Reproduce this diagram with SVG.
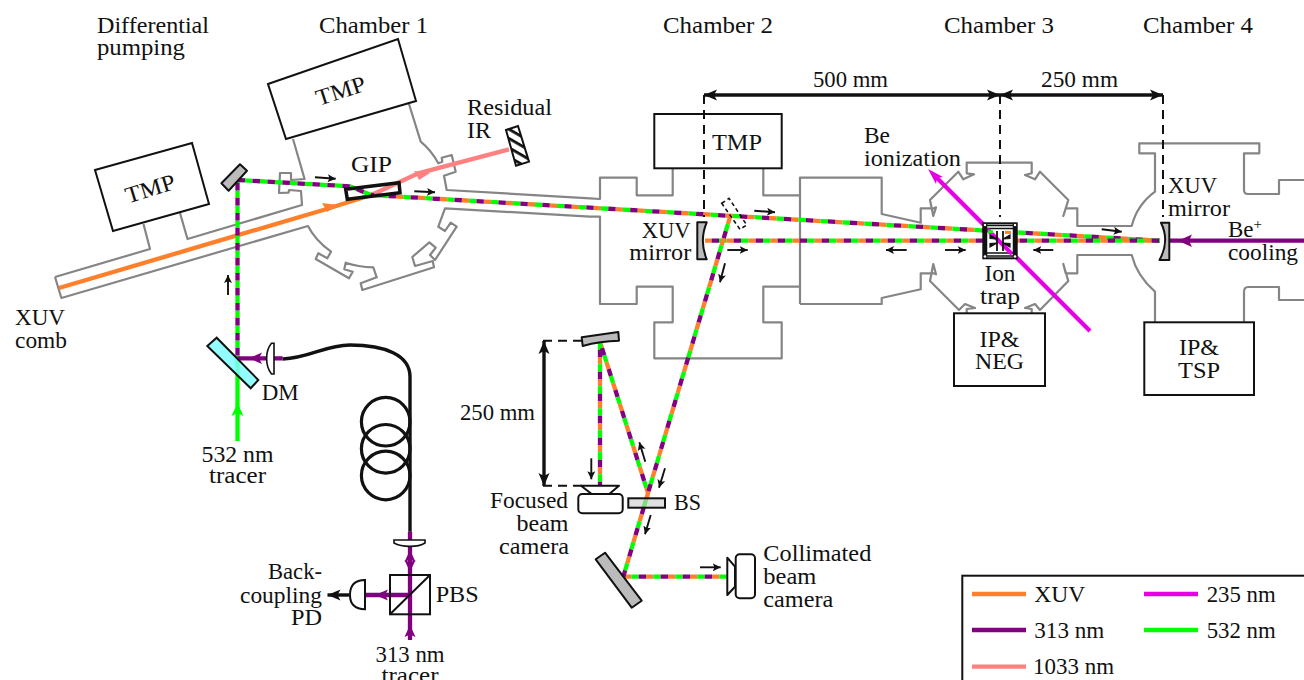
<svg xmlns="http://www.w3.org/2000/svg" width="1304" height="680" viewBox="0 0 1304 680">
<style>
text{font-family:"Liberation Serif","Times New Roman",serif;font-size:23px;fill:#111}
.m{text-anchor:middle}.e{text-anchor:end}
.g{fill:none;stroke:#858585;stroke-width:2.200;stroke-linejoin:round}
.box{fill:#fff;stroke:#111;stroke-width:2}
.opt{stroke:#111;stroke-width:2;stroke-linejoin:round}
.ar{fill:none;stroke:#111;stroke-width:1.900;marker-end:url(#sm)}
.dash{fill:none;stroke:#111;stroke-width:2;stroke-dasharray:9 6}
.dim{fill:none;stroke:#111;stroke-width:3.400;marker-end:url(#big);marker-start:url(#bigs)}
.t{fill:none;stroke-width:4.300}
.o{stroke:#ff7f2a}.v{stroke:#800080}.n{stroke:#00ff00}.p{stroke:#ff8080}.k{stroke:#e600e6}
.q{stroke-dasharray:7.330 14.670}
.w{stroke-dasharray:7.500 7.500}
</style>
<defs>
<marker id="sm" markerUnits="userSpaceOnUse" markerWidth="10" markerHeight="10" refX="8" refY="4.500" orient="auto"><path d="M0,0.500L8,4.500L0,8.500L1.800,4.500Z" fill="#111"/></marker>
<marker id="big" markerUnits="userSpaceOnUse" markerWidth="16" markerHeight="16" refX="13" refY="6" orient="auto"><path d="M0,0.500L13,6L0,11.500L3,6Z" fill="#111"/></marker>
<marker id="bigs" markerUnits="userSpaceOnUse" markerWidth="16" markerHeight="16" refX="0" refY="6" orient="auto"><path d="M13,0.500L0,6L13,11.500L10,6Z" fill="#111"/></marker>
<pattern id="hatch" patternUnits="userSpaceOnUse" width="8" height="8" patternTransform="rotate(30)"><rect width="8" height="8" fill="#fff"/><rect width="8" height="2.800" fill="#111"/></pattern>
</defs>

<g id="vacuum">
<path class="g" d="M55,277L150,249L143.500,224M180,213L187.500,239L302,205L301,191L289,190L288.600,192.600L279,193L280,173L291,173L291,180L304.600,179L293,139"/>
<path class="g" d="M55,277L61.400,298L308,226Q315,240 331,251.700L327.300,258.300L318.300,253.300L315.700,259L349,278.300L352.700,271.700L344.300,269.300L345.700,262.700Q358,267 373.300,267.300L376.700,277.300L360.700,283.300L362.300,290L434,267.300L432.700,261L415,266L412.300,257L429.300,242.300L435.700,247.700L430,255L435,260L456.700,226.700L450.700,222.700L445,231L438.300,226.700L445,208.300L590,216.700L600,216.700L600,304L636.700,304L636.700,286.700L672.700,286.700L672.700,322.300L654.300,322.300L654.300,358.300L781.700,358.300L781.700,322.300L763.300,322.300L763.300,286.700L800,286.700"/>
<path class="g" d="M409,104L420.700,141.700Q431,150 438.300,163.300L442.300,161.700L441.700,157.700L451.700,155L455.700,171.700L444,175.700L446.700,190L590,198.300L600,199L600,177.700L636.700,177.700L636.700,195.300L672.700,195.300L672.700,168.300M763.300,168.300L763.300,195.300L800,195.300M800,304L800,177.700L881.700,177.700L881.700,214L920.700,222.700L920.700,208.300L934,208.300L936,207.300L933.300,216L930,200L958.300,171.700L963.300,179.300L974,174.300L966.700,173.300L966.700,162.700L1031.700,162.700L1031.700,173.300L1025,175L1035,179.300L1040,171.700L1068.300,200L1063.300,216L1065.700,208.300L1077.300,208.300L1077.300,226L1131.700,226Q1137,205 1155,191.700L1155,153.300L1139.300,153.300L1139.300,143.300L1259.300,143.300L1259.300,153.300L1244,153.300L1244,190Q1244,194 1248,194L1279,194L1279,180L1304,180"/>
<path class="g" d="M800,304L881.700,304L881.700,298L920.700,289.300L920.700,273.300L934,273.300L936,274.300L933.300,264L930,281L959,310L965,304L975,308L966.700,309L966.700,314M1031.700,314L1031.700,309L1025,308L1035,304L1040,310L1068.300,281L1063.300,264L1065.700,273.300L1077.300,273.300L1077.300,255L1131.700,255Q1137,276 1155,291.700L1155,322M1244,322L1244,292Q1244,287 1248,287L1279,287L1279,300L1304,300"/>
</g>

<g id="tmp-diff"><polygon class="box" points="95,170 192,143 209,204 113,231"/><text class="m" transform="translate(152.500,196) rotate(-17)" textLength="51" lengthAdjust="spacingAndGlyphs">TMP</text></g>
<g id="tmp-ch1"><polygon class="box" points="268,84 398,39 416,101 286,139"/><text class="m" transform="translate(343,98) rotate(-18)" textLength="51" lengthAdjust="spacingAndGlyphs">TMP</text></g>
<g id="tmp-ch2"><rect class="box" x="654.300" y="114" width="127.400" height="54.300"/><text class="m" x="737" y="150" textLength="50" lengthAdjust="spacingAndGlyphs">TMP</text></g>
<g id="ip-neg"><rect class="box" x="954" y="313.300" width="91" height="72.700"/><text class="m" x="999.500" y="346.700" textLength="40" lengthAdjust="spacingAndGlyphs">IP&amp;</text><text class="m" x="999.500" y="369.300" textLength="49" lengthAdjust="spacingAndGlyphs">NEG</text></g>
<g id="ip-tsp"><rect class="box" x="1144.300" y="322.300" width="109.700" height="72.700"/><text class="m" x="1199" y="355" textLength="40" lengthAdjust="spacingAndGlyphs">IP&amp;</text><text class="m" x="1199" y="378" textLength="42" lengthAdjust="spacingAndGlyphs">TSP</text></g>

<g id="gip"><polygon points="345.700,189.300 399,182.700 400,192.700 347.300,199.300" fill="#fff"/></g>

<g id="connectors">
<line class="t k" x1="1090" y1="331" x2="934" y2="175"/>
<polygon points="928,169 943,177 937,178 936,184" fill="#e600e6"/>
<path class="t o" d="M59,288L326.700,209L372,194.700"/>
<path class="t p" d="M372,194.700L418.300,173.300L509,149.300"/>
<polygon points="338,205 322,203 325,208 327,212" fill="#ff7f2a"/>
<polygon points="430,173 414,171 417,176 419,180" fill="#ff8080"/>
<line class="t n" x1="237.500" y1="358" x2="237.500" y2="441"/>
<path class="t n w" stroke-dashoffset="4.500" d="M237.500,180L237.500,358"/><path class="t v w" stroke-dashoffset="12" d="M237.500,180L237.500,358"/>
<path class="t n w" stroke-dashoffset="7.500" d="M237.500,180L350,186.300L371,195"/><path class="t v w" d="M237.500,180L350,186.300L371,195"/>
<path class="t o q" stroke-dashoffset="19" d="M371,195L1160,240.700"/><path class="t n q" stroke-dashoffset="11.670" d="M371,195L1160,240.700"/><path class="t v q" stroke-dashoffset="4.330" d="M371,195L1160,240.700"/>
<path class="t o q" stroke-dashoffset="13.670" d="M1160,240.700L705,240.700"/><path class="t n q" stroke-dashoffset="6.330" d="M1160,240.700L705,240.700"/><path class="t v q" stroke-dashoffset="21" d="M1160,240.700L705,240.700"/>
<path class="t o q" d="M730,217L648,493L600,341.700L600,485"/><path class="t n q" stroke-dashoffset="14.670" d="M730,217L648,493L600,341.700L600,485"/><path class="t v q" stroke-dashoffset="7.330" d="M730,217L648,493L600,341.700L600,485"/>
<path class="t o q" d="M648,493L623.300,576.700L726.700,576.700"/><path class="t n q" stroke-dashoffset="14.670" d="M648,493L623.300,576.700L726.700,576.700"/><path class="t v q" stroke-dashoffset="7.330" d="M648,493L623.300,576.700L726.700,576.700"/>
<line class="t v" x1="1304" y1="240.700" x2="1169" y2="240.700"/>
<polygon points="1178,240.700 1192,234.500 1189,240.700 1192,247" fill="#800080"/>
<line class="t v" x1="237.500" y1="358.300" x2="282.700" y2="358.300"/>
<polygon points="249,358.300 262,352.500 259,358.300 262,364" fill="#800080"/>
<polygon points="237.500,403 231.500,416 237.500,413 243.500,416" fill="#00ff00"/>
<line class="t v" x1="410" y1="531.700" x2="410" y2="640"/>
<line class="t v" x1="410" y1="595" x2="365" y2="595"/>
<polygon points="375,595 388,589.500 385,595 388,600.500" fill="#800080"/>
<polygon points="410,550 404.500,562 410,559.500 415.500,562" fill="#800080"/>
<polygon points="410,572 404.500,560 410,562.500 415.500,560" fill="#800080"/>
<polygon points="410,625 404.500,637 410,634.500 415.500,637" fill="#800080"/>
<path d="M282.700,359C310,358 325,345 350,345C385,345 410,355 410,376.700L410,531.700" fill="none" stroke="#111" stroke-width="3.400"/>
<circle cx="385.700" cy="421.700" r="24.300" fill="none" stroke="#111" stroke-width="3.200"/>
<circle cx="385.700" cy="448.800" r="24.300" fill="none" stroke="#111" stroke-width="3.200"/>
<circle cx="385.700" cy="475.500" r="24.300" fill="none" stroke="#111" stroke-width="3.200"/>
<line x1="349" y1="595" x2="327.500" y2="595" stroke="#111" stroke-width="3.400" marker-end="url(#big)"/>
<line class="ar" x1="315" y1="177.300" x2="335.700" y2="178.700"/>
<line class="ar" x1="414.300" y1="191.300" x2="435" y2="192.300"/>
<line class="ar" x1="228" y1="295" x2="228" y2="275"/>
<line class="ar" x1="754.300" y1="210.700" x2="775" y2="212.300"/>
<line class="ar" x1="727.300" y1="250" x2="747.700" y2="250"/>
<line class="ar" x1="725" y1="263.300" x2="720" y2="282.300"/>
<line class="ar" x1="906.700" y1="250" x2="886" y2="250"/>
<line class="ar" x1="945" y1="250" x2="965.700" y2="250"/>
<line class="ar" x1="1053.300" y1="250" x2="1033.300" y2="250"/>
<line class="ar" x1="1101.700" y1="229.300" x2="1121.700" y2="231.700"/>
<line class="ar" x1="700" y1="567.300" x2="720.700" y2="567.300"/>
<line class="ar" x1="591.300" y1="458.300" x2="591.300" y2="479.300"/>
<line class="ar" x1="645.300" y1="461.700" x2="639.300" y2="442.300"/>
<line class="ar" x1="665" y1="468.300" x2="659" y2="487.700"/>
<line class="ar" x1="650.700" y1="515" x2="645" y2="534.300"/>
<line class="dim" x1="704" y1="95" x2="1000" y2="95"/>
<line class="dim" x1="1000" y1="95" x2="1163" y2="95"/>
<line class="dim" x1="544" y1="341" x2="544" y2="486"/>
<path class="dash" d="M704,95V217M1000,95V217M1163,95V217M543,340.700H582M543,485.700H582"/>
</g>

<g id="gip-frame"><polygon points="345.700,189.300 399,182.700 400,192.700 347.300,199.300" fill="none" stroke="#111" stroke-width="3.500"/><text x="351" y="171.700" textLength="41" lengthAdjust="spacingAndGlyphs">GIP</text></g>

<g id="dump"><polygon points="506,130 518,126 529,161.700 516,165.700" fill="url(#hatch)" stroke="#111" stroke-width="2"/></g>
<g id="steering"><polygon class="opt" fill="#bbb" points="221.400,183.300 240,164.300 247,170.700 228.600,190.700"/></g>
<g id="dm"><polygon points="207.300,346 216.700,337.700 258.300,380 250.700,388.300" fill="#80ffff" fill-opacity="0.85" stroke="#111" stroke-width="2"/></g>
<g id="lens1"><path d="M274,343.300H271.500C265,351 265,366 271.500,374H274Z" fill="#fff" stroke="#111" stroke-width="1.600"/></g>
<g id="lens2"><path d="M394,540H425V543C418,547.500 402,547.500 394,543Z" fill="#fff" stroke="#111" stroke-width="1.600"/></g>
<g id="pbs"><rect x="390" y="575" width="40" height="39.300" fill="none" stroke="#111" stroke-width="2"/><line x1="390" y1="614.300" x2="430" y2="575" stroke="#111" stroke-width="2"/></g>
<g id="pd"><path d="M365,580V609.300Q350,609 350,595Q350,580 365,580Z" fill="#fff" stroke="#111" stroke-width="2"/></g>
<g id="mirror-ch2"><path class="opt" fill="#bbb" d="M697.300,222.300H706.700Q699,240.700 706.700,259.300H697.300Z"/></g>
<g id="mirror-ch4"><path class="opt" fill="#bbb" d="M1161,222.700H1169.300V260H1159.500Q1170,241 1161,222.700Z"/></g>
<g id="pickoff"><polygon points="721.700,203.300 729,198.300 746.700,225 740,229.300" fill="none" stroke="#111" stroke-width="1.600" stroke-dasharray="4 3"/></g>
<g id="curved"><path class="opt" fill="#bbb" d="M581.700,337.300L618.300,332L619,340.700Q600,341 582.700,346Z"/></g>
<g id="focused"><path class="opt" fill="#fff" d="M581,485.700H619L609.300,494H591.700Z"/><rect x="578.300" y="494" width="44.400" height="19.300" rx="4" fill="#fff" stroke="#111" stroke-width="2"/></g>
<g id="bs"><rect x="628.300" y="498.300" width="36.700" height="9.400" fill="#ccc" fill-opacity="0.6" stroke="#111" stroke-width="2"/></g>
<g id="big-mirror"><polygon class="opt" fill="#bbb" points="595.700,559.300 605,552.700 641.700,600.700 631.700,607.700"/></g>
<g id="collimated"><path class="opt" fill="#fff" d="M727.300,557.700V595L735,586.700V566.700Z"/><rect x="735.700" y="554.300" width="19.300" height="44" rx="4" fill="#fff" stroke="#111" stroke-width="2"/></g>
<g id="trap">
<rect x="983.300" y="223.300" width="33.400" height="35" fill="#fff" stroke="#111" stroke-width="2"/>
<rect x="984" y="225.500" width="32" height="3" fill="#fff" stroke="#111" stroke-width="1.500"/><rect x="984" y="253" width="32" height="3" fill="#fff" stroke="#111" stroke-width="1.500"/>
<line x1="987" y1="229" x2="1012" y2="254" stroke="#e600e6" stroke-width="4"/>
<path d="M988,231.800H993" stroke="#00ff00" stroke-width="3"/><path d="M1005,232.400H1011" stroke="#ff7f2a" stroke-width="3"/>
<path d="M985.500,224V258M1014.500,224V258" stroke="#111" stroke-width="3.500" fill="none"/>
<path d="M997,231V251M1003,231V251" stroke="#111" stroke-width="1.800" fill="none"/>
<path d="M990,235L997,239L990,238.500ZM1010,235L1003,239L1010,238.500ZM990,247L997,243L990,243.500ZM1010,247L1003,243L1010,243.500Z" fill="#111" stroke="#111" stroke-width="1.200"/>
<circle cx="985" cy="225" r="1.800" fill="#fff" stroke="#111"/><circle cx="1015" cy="225" r="1.800" fill="#fff" stroke="#111"/><circle cx="985" cy="256.500" r="1.800" fill="#fff" stroke="#111"/><circle cx="1015" cy="256.500" r="1.800" fill="#fff" stroke="#111"/>
</g>

<g id="labels">
<text x="97" y="33" textLength="112" lengthAdjust="spacingAndGlyphs">Differential</text><text x="97" y="55" textLength="88" lengthAdjust="spacingAndGlyphs">pumping</text>
<text x="319" y="33" textLength="109" lengthAdjust="spacingAndGlyphs">Chamber 1</text><text x="663" y="33" textLength="110" lengthAdjust="spacingAndGlyphs">Chamber 2</text><text x="944" y="33" textLength="110" lengthAdjust="spacingAndGlyphs">Chamber 3</text><text x="1143" y="33" textLength="110" lengthAdjust="spacingAndGlyphs">Chamber 4</text>
<text x="467" y="115" textLength="85" lengthAdjust="spacingAndGlyphs">Residual</text><text x="467" y="138" textLength="24" lengthAdjust="spacingAndGlyphs">IR</text>
<text x="15" y="325" textLength="50" lengthAdjust="spacingAndGlyphs">XUV</text><text x="15" y="348" textLength="52" lengthAdjust="spacingAndGlyphs">comb</text>
<text x="813" y="87" textLength="75" lengthAdjust="spacingAndGlyphs">500 mm</text><text x="1041" y="87" textLength="77" lengthAdjust="spacingAndGlyphs">250 mm</text>
<text x="864" y="143.300" textLength="26" lengthAdjust="spacingAndGlyphs">Be</text><text x="864" y="166" textLength="97" lengthAdjust="spacingAndGlyphs">ionization</text>
<text x="641.700" y="238.300" textLength="49" lengthAdjust="spacingAndGlyphs">XUV</text><text x="629.300" y="260" textLength="62" lengthAdjust="spacingAndGlyphs">mirror</text>
<text x="1168" y="193" textLength="49" lengthAdjust="spacingAndGlyphs">XUV</text><text x="1168" y="215.700" textLength="62" lengthAdjust="spacingAndGlyphs">mirror</text>
<text x="1228" y="236.700">Be<tspan font-size="15" dy="-8">+</tspan></text><text x="1228" y="260" textLength="70" lengthAdjust="spacingAndGlyphs">cooling</text>
<text x="1000" y="281" class="m" textLength="31" lengthAdjust="spacingAndGlyphs">Ion</text><text x="1000" y="304" class="m" textLength="40" lengthAdjust="spacingAndGlyphs">trap</text>
<text x="261.700" y="400" textLength="37" lengthAdjust="spacingAndGlyphs">DM</text><text x="237.500" y="461.700" class="m" textLength="72" lengthAdjust="spacingAndGlyphs">532 nm</text><text x="237.500" y="483.300" class="m" textLength="57" lengthAdjust="spacingAndGlyphs">tracer</text>
<text x="268" y="579.300" textLength="54" lengthAdjust="spacingAndGlyphs">Back-</text><text x="240" y="602.700" textLength="82" lengthAdjust="spacingAndGlyphs">coupling</text><text x="291" y="625" textLength="31" lengthAdjust="spacingAndGlyphs">PD</text>
<text x="435.700" y="601.700" textLength="43" lengthAdjust="spacingAndGlyphs">PBS</text><text x="410" y="661.700" class="m" textLength="69" lengthAdjust="spacingAndGlyphs">313 nm</text><text x="410" y="683" class="m" textLength="57" lengthAdjust="spacingAndGlyphs">tracer</text>
<text x="460" y="420" textLength="75" lengthAdjust="spacingAndGlyphs">250 mm</text>
<text x="490" y="508.300" textLength="78" lengthAdjust="spacingAndGlyphs">Focused</text><text x="516.500" y="530.700" textLength="52" lengthAdjust="spacingAndGlyphs">beam</text><text x="499" y="554" textLength="70" lengthAdjust="spacingAndGlyphs">camera</text>
<text x="674" y="510" textLength="27" lengthAdjust="spacingAndGlyphs">BS</text>
<text x="763.300" y="561" textLength="108" lengthAdjust="spacingAndGlyphs">Collimated</text><text x="763.300" y="584.300" textLength="53" lengthAdjust="spacingAndGlyphs">beam</text><text x="763.300" y="606.700" textLength="70" lengthAdjust="spacingAndGlyphs">camera</text>
</g>

<g id="legend">
<rect x="962.300" y="575.700" width="360" height="120" fill="#fff" stroke="#111" stroke-width="2"/>
<line class="t o" x1="972" y1="594" x2="1026" y2="594"/><text x="1034.300" y="601.700" textLength="51" lengthAdjust="spacingAndGlyphs">XUV</text>
<line class="t v" x1="972" y1="630" x2="1026" y2="630"/><text x="1034.300" y="637.700" textLength="70" lengthAdjust="spacingAndGlyphs">313 nm</text>
<line class="t p" x1="972" y1="666.700" x2="1026" y2="666.700"/><text x="1033" y="674" textLength="81" lengthAdjust="spacingAndGlyphs">1033 nm</text>
<line class="t k" x1="1144" y1="594" x2="1198" y2="594"/><text x="1206.700" y="601.700" textLength="69" lengthAdjust="spacingAndGlyphs">235 nm</text>
<line class="t n" x1="1144" y1="630" x2="1198" y2="630"/><text x="1206.700" y="637.700" textLength="69" lengthAdjust="spacingAndGlyphs">532 nm</text>
</g>
</svg>
